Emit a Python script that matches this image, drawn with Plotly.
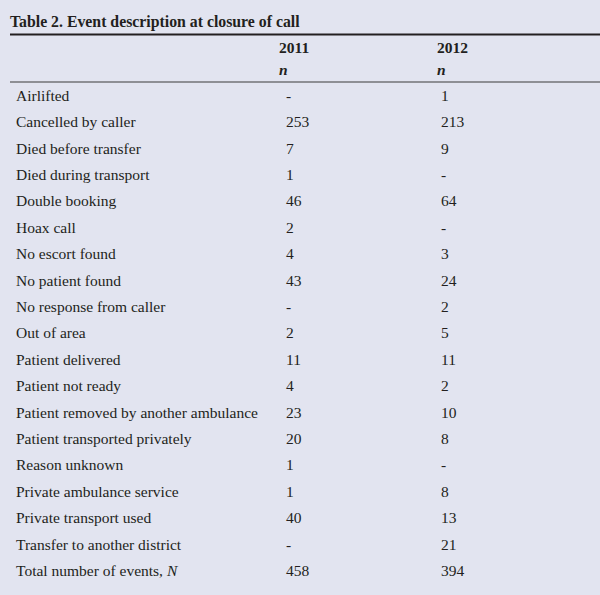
import plotly.graph_objects as go

# table data (None = "-")
events = [
    "Airlifted",
    "Cancelled by caller",
    "Died before transfer",
    "Died during transport",
    "Double booking",
    "Hoax call",
    "No escort found",
    "No patient found",
    "No response from caller",
    "Out of area",
    "Patient delivered",
    "Patient not ready",
    "Patient removed by another ambulance",
    "Patient transported privately",
    "Reason unknown",
    "Private ambulance service",
    "Private transport used",
    "Transfer to another district",
]
n_2011 = [None, 253, 7, 1, 46, 2, 4, 43, None, 2, 11, 4, 23, 20, 1, 1, 40, None]
n_2012 = [1, 213, 9, None, 64, None, 3, 24, 2, 5, 11, 2, 10, 8, None, 8, 13, 21]
total_2011 = 458
total_2012 = 394
years = ["2011", "2012"]

BG = "#E2E4F0"
INK = "#231F20"
FONT = "Liberation Serif"

# page geometry in pixels (axes are mapped 1:1 to the page)
W, H = 600, 595
ROW0 = 97
STEP = 26.4
X_LABEL = 16
X_COL = [286, 441]
X_HEAD = [279, 437]


def cell(v):
    return "-" if v is None else str(v)


labels = events + ["Total number of events, <i>N</i>"]
col1 = [cell(v) for v in n_2011] + [str(total_2011)]
col2 = [cell(v) for v in n_2012] + [str(total_2012)]
rows_y = [ROW0 + i * STEP for i in range(len(labels))]

fig = go.Figure()

text_style = dict(family=FONT, size=15.5, color=INK)

fig.add_trace(go.Scatter(
    x=[X_LABEL] * len(labels), y=rows_y, text=labels,
    mode="text", textposition="middle right",
    textfont=text_style, hoverinfo="skip"
))
for xc, col in zip(X_COL, [col1, col2]):
    fig.add_trace(go.Scatter(
        x=[xc] * len(col), y=rows_y, text=col,
        mode="text", textposition="middle right",
        textfont=text_style, hoverinfo="skip"
    ))

# header: years and n
fig.add_trace(go.Scatter(
    x=X_HEAD + X_HEAD, y=[49, 49, 71, 71],
    text=["<b>%s</b>" % y for y in years] + ["<b><i>n</i></b>"] * 2,
    mode="text", textposition="middle right",
    textfont=text_style, hoverinfo="skip"
))

fig.add_shape(type="line", x0=10, x1=W, y0=34.5, y1=34.5,
              line=dict(color=INK, width=2))
fig.add_shape(type="line", x0=10, x1=W, y0=82, y1=82,
              line=dict(color="#3a3a3a", width=1))

fig.update_layout(
    width=W, height=H,
    paper_bgcolor=BG, plot_bgcolor=BG,
    margin=dict(l=0, r=0, t=0, b=0),
    showlegend=False,
    title=dict(
        text="<b>Table 2. Event description at closure of call</b>",
        x=10 / W, xanchor="left", y=1 - 21 / H, yanchor="middle",
        font=dict(family=FONT, size=15.8, color=INK)
    ),
    xaxis=dict(range=[0, W], visible=False, fixedrange=True),
    yaxis=dict(range=[H, 0], visible=False, fixedrange=True),
)

# drop the browser's default body margin so the figure sits at 0,0
fig.write_html(
    "out.html",
    config={"displayModeBar": False},
    post_script="document.body.style.margin='0';document.body.style.background='%s';" % BG,
)
